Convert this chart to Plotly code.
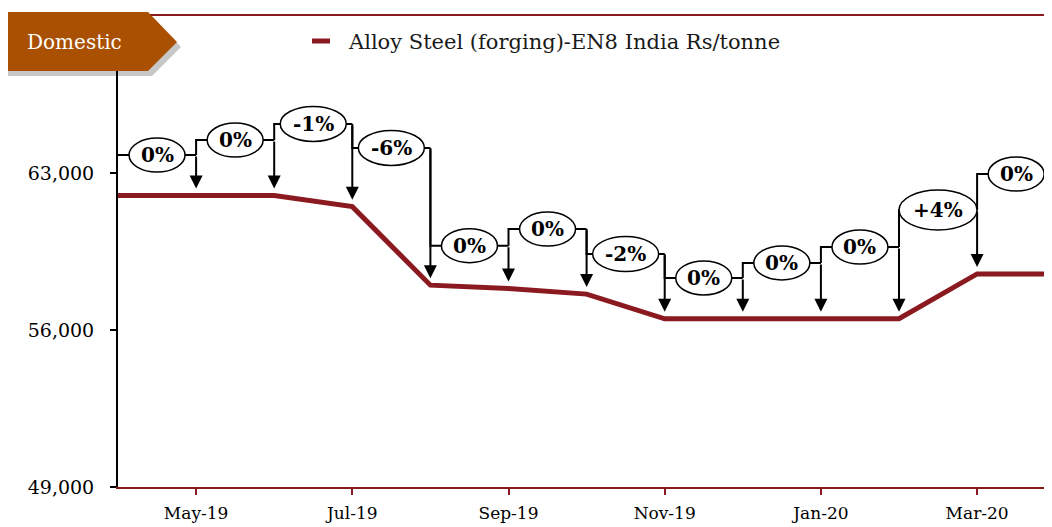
import plotly.graph_objects as go

# ---------------- data ----------------
months = ["Apr-19", "May-19", "Jun-19", "Jul-19", "Aug-19", "Sep-19", "Oct-19",
          "Nov-19", "Dec-19", "Jan-20", "Feb-20", "Mar-20", "Apr-20"]
prices = [62000, 62000, 62000, 61500, 58000, 57850, 57600,
          56500, 56500, 56500, 56500, 58500, 58500]
change_labels = ["0%", "0%", "-1%", "-6%", "0%", "0%", "-2%", "0%", "0%", "0%", "+4%", "0%"]
label_levels = [63800, 64470, 65190, 64120, 59760, 60500, 59390, 58320, 58990, 59700, 61350, 62955]
y_ticks = [49000, 56000, 63000, 70000]
x_tick_months = ["May-19", "Jul-19", "Sep-19", "Nov-19", "Jan-20", "Mar-20"]
series_name = "Alloy Steel (forging)-EN8 India Rs/tonne"
tag_text = "Domestic"

# ---------------- style ----------------
# the page body has an 8px margin: keep the figure inside the window
OFF = 8
WIN_W, WIN_H = 1052, 527
PLOT_L, PLOT_T, PLOT_B = 118, 16, 487        # target plot box in window pixels
PLOT_R = WIN_W - OFF                          # right edge reachable without overflow
MONTH_PX = 78.1                               # horizontal spacing of one month
W, H = WIN_W - 2 * OFF, WIN_H - OFF
ML, MT = PLOT_L - OFF, PLOT_T - OFF
PW, PH = PLOT_R - PLOT_L, PLOT_B - PLOT_T
MR = W - ML - PW
MB = H - MT - PH
LINE_RED = "#8B1A20"
TAG = "#AA5002"
SERIF = "'DejaVu Serif', Georgia, serif"


def px(xp):
    return (xp - PLOT_L) / PW


def py(yp):
    return (PLOT_B - yp) / PH


xi = list(range(len(months)))

fig = go.Figure()

# bracket connectors (behind ellipses)
for i in range(1, len(months)):
    lvl = label_levels[i - 1]
    prev = label_levels[i - 2] if i >= 2 else lvl
    fig.add_trace(go.Scatter(
        x=[xi[i - 1], xi[i - 1], xi[i]],
        y=[prev, lvl, lvl],
        mode="lines", line=dict(color="black", width=2),
        hoverinfo="skip", showlegend=False))

# main series
fig.add_trace(go.Scatter(
    x=xi, y=prices, mode="lines", name=series_name,
    line=dict(color=LINE_RED, width=5), showlegend=False))

shapes = []
annotations = []

for i in range(1, len(months)):
    lab = change_labels[i - 1]
    lvl = label_levels[i - 1]
    if lab.startswith("+"):
        w, h = 78, 40
    elif lab.startswith("-"):
        w, h = 66, 35
    else:
        w, h = 56, 34
    shapes.append(dict(
        type="circle", xref="x", yref="y", layer="above",
        xsizemode="pixel", ysizemode="pixel",
        xanchor=xi[i] - 0.5, yanchor=lvl,
        x0=-w / 2, x1=w / 2, y0=-h / 2, y1=h / 2,
        fillcolor="white", line=dict(color="black", width=1.5)))
    annotations.append(dict(
        x=xi[i] - 0.5, y=lvl, xref="x", yref="y", text=f"<b>{lab}</b>",
        xanchor="center", yanchor="middle",
        showarrow=False, font=dict(family=SERIF, size=20, color="black")))
    # downward arrow to the data point
    annotations.append(dict(
        x=xi[i], y=prices[i], xref="x", yref="y",
        ax=xi[i], ay=lvl, axref="x", ayref="y",
        text="", showarrow=True, arrowhead=2, arrowsize=1.3,
        arrowwidth=2, arrowcolor="black", standoff=7))

# manual legend
shapes.append(dict(type="line", xref="paper", yref="paper",
                   x0=px(312), x1=px(330), y0=py(41), y1=py(41),
                   line=dict(color=LINE_RED, width=5), layer="above"))
annotations.append(dict(x=px(346), y=py(42), xref="paper", yref="paper",
                        text=series_name, showarrow=False,
                        xanchor="left", yanchor="middle",
                        font=dict(family=SERIF, size=21, color="#1a1a1a")))

# Domestic tag with shadow
def tag_path(dx, dy):
    pts = [(4, 12), (148, 12), (177, 42), (148, 71), (4, 71)]
    return "M " + " L ".join(f"{px(a + dx)},{py(b + dy)}" for a, b in pts) + " Z"

shapes.append(dict(type="path", xref="paper", yref="paper", layer="above",
                   path=tag_path(4, 5), fillcolor="rgba(0,0,0,0.22)",
                   line=dict(width=0)))
shapes.append(dict(type="path", xref="paper", yref="paper", layer="above",
                   path=tag_path(0, 0), fillcolor=TAG, line=dict(width=0)))
annotations.append(dict(x=px(74), y=py(42), xref="paper", yref="paper",
                        text=tag_text, showarrow=False,
                        xanchor="center", yanchor="middle",
                        font=dict(family=SERIF, size=20, color="white")))

fig.update_layout(
    width=W, height=H, autosize=False,
    margin=dict(l=ML, r=MR, t=MT, b=MB, pad=0),
    paper_bgcolor="white", plot_bgcolor="white",
    shapes=shapes, annotations=annotations,
    showlegend=False,
)

fig.update_xaxes(
    range=[0, PW / MONTH_PX], tickmode="array",
    tickvals=[months.index(m) for m in x_tick_months], ticktext=x_tick_months,
    ticks="outside", ticklen=6, tickwidth=1.5, tickcolor=LINE_RED,
    showline=True, linecolor=LINE_RED, linewidth=2, mirror=True,
    showgrid=False, zeroline=False, ticklabelstandoff=4,
    tickfont=dict(family=SERIF, size=17, color="black"),
)
fig.update_yaxes(
    range=[49000, 70000], tickmode="array", tickvals=y_ticks,
    tickformat=",", ticks="outside", ticklen=6, tickwidth=1.5, tickcolor="black",
    showline=True, linecolor="black", linewidth=2,
    showgrid=False, zeroline=False, ticklabelstandoff=12,
    tickfont=dict(family=SERIF, size=19, color="black"),
)

fig.write_html("out.html")
